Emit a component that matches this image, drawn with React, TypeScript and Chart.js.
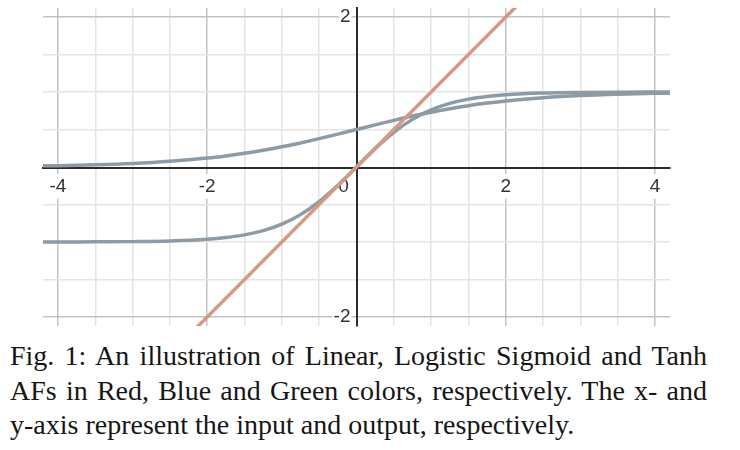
import React, { useEffect, useRef } from "react";
import { Chart, registerables } from "chart.js";

Chart.register(...registerables);

// ---- data ----
const curveX = [-4.2, -4, -3.5, -3, -2.5, -2, -1.75, -1.5, -1.25, -1, -0.75, -0.5, -0.25, 0, 0.25, 0.5, 0.75, 1, 1.25, 1.5, 1.75, 2, 2.5, 3, 3.5, 4, 4.2];
const sigmoidY = [0.015, 0.018, 0.029, 0.047, 0.076, 0.119, 0.148, 0.182, 0.223, 0.269, 0.321, 0.378, 0.438, 0.5, 0.562, 0.622, 0.679, 0.731, 0.777, 0.818, 0.852, 0.881, 0.924, 0.953, 0.971, 0.982, 0.985];
const tanhY = [-1, -0.999, -0.998, -0.995, -0.987, -0.964, -0.941, -0.905, -0.848, -0.762, -0.635, -0.462, -0.245, 0, 0.245, 0.462, 0.635, 0.762, 0.848, 0.905, 0.941, 0.964, 0.987, 0.995, 0.998, 0.999, 1];
const linearX = [-4.2, 4.2];
const linearY = [-4.2, 4.2];

const xTickLabels = [-4, -2, 2, 4];
const yTickLabels = [-2, 2];
const originLabel = "0";

const captionLines = [
  "Fig. 1: An illustration of Linear, Logistic Sigmoid and Tanh",
  "AFs in Red, Blue and Green colors, respectively. The x- and",
  "y-axis represent the input and output, respectively.",
];

const LINEAR_COLOR = "#d69a80";
const CURVE_COLOR = "#8d9ba6";
const MINOR_GRID = "#e4e4e4";
const MAJOR_GRID = "#bfc3c6";
const AXIS_COLOR = "#2b2b2b";
const TICK_FONT = { family: "'Liberation Sans', Arial, sans-serif", size: 19 };

const isMajor = (v: number) => Math.abs(v / 2 - Math.round(v / 2)) < 1e-6;

export default function App() {
  const canvasRef = useRef<HTMLCanvasElement | null>(null);

  useEffect(() => {
    const canvas = canvasRef.current;
    if (!canvas) return;
    const pts = (xs: number[], ys: number[]) => xs.map((x, i) => ({ x, y: ys[i] }));

    const gridColor = (ctx: any) => {
      const v = ctx.tick ? ctx.tick.value : 0;
      if (Math.abs(v) < 1e-9) return "rgba(0,0,0,0)";
      return isMajor(v) ? MAJOR_GRID : MINOR_GRID;
    };
    const noPad = (s: any) => {
      s.paddingTop = 0;
      s.paddingBottom = 0;
      s.paddingLeft = 0;
      s.paddingRight = 0;
    };

    const chart = new Chart(canvas, {
      type: "scatter",
      data: {
        datasets: [
          {
            data: pts(linearX, linearY),
            showLine: true,
            borderColor: LINEAR_COLOR,
            borderWidth: 3.5,
            pointRadius: 0,
          },
          {
            data: pts(curveX, sigmoidY),
            showLine: true,
            borderColor: CURVE_COLOR,
            borderWidth: 3.5,
            pointRadius: 0,
            cubicInterpolationMode: "monotone",
          },
          {
            data: pts(curveX, tanhY),
            showLine: true,
            borderColor: CURVE_COLOR,
            borderWidth: 3.5,
            pointRadius: 0,
            cubicInterpolationMode: "monotone",
          },
        ],
      },
      options: {
        animation: false,
        responsive: false,
        maintainAspectRatio: false,
        layout: { padding: { left: 43, right: 70, top: 8, bottom: 9 } },
        plugins: { legend: { display: false }, tooltip: { enabled: false } },
        scales: {
          x: {
            type: "linear",
            position: "center",
            min: -4.2,
            max: 4.2,
            afterFit: noPad,
            ticks: {
              stepSize: 0.5,
              includeBounds: false,
              autoSkip: false,
              maxRotation: 0,
              padding: 8,
              font: TICK_FONT,
              color: "#333",
              callback: (v: any) => (xTickLabels.includes(Number(v)) ? String(v) : ""),
              showLabelBackdrop: (ctx: any) => xTickLabels.includes(ctx.tick?.value),
              backdropColor: "#ffffff",
              backdropPadding: 1,
            },
            grid: { color: gridColor, lineWidth: 1.5, drawTicks: false },
            border: { color: AXIS_COLOR, width: 2 },
          },
          x0: {
            type: "linear",
            axis: "x",
            position: "center",
            min: -4.2,
            max: 4.2,
            afterFit: noPad,
            afterBuildTicks: (s: any) => {
              s.ticks = [{ value: 0 }];
            },
            ticks: {
              autoSkip: false,
              maxRotation: 0,
              padding: 8,
              labelOffset: -13,
              font: TICK_FONT,
              color: "#333",
              callback: () => originLabel,
              showLabelBackdrop: true,
              backdropColor: "#ffffff",
              backdropPadding: 1,
            },
            grid: { display: false, drawTicks: false },
            border: { display: false },
          },
          y: {
            type: "linear",
            position: "center",
            min: -2.12,
            max: 2.12,
            afterFit: noPad,
            ticks: {
              stepSize: 0.5,
              includeBounds: false,
              autoSkip: false,
              padding: 6,
              font: TICK_FONT,
              color: "#333",
              callback: (v: any) => (yTickLabels.includes(Number(v)) ? String(v) : ""),
              showLabelBackdrop: (ctx: any) => yTickLabels.includes(ctx.tick?.value),
              backdropColor: "#ffffff",
              backdropPadding: 1,
            },
            grid: { color: gridColor, lineWidth: 1.5, drawTicks: false },
            border: { color: AXIS_COLOR, width: 2 },
          },
        },
      },
    } as any);

    return () => chart.destroy();
  }, []);

  const lineStyle = (last: boolean): React.CSSProperties => ({
    textAlign: last ? "left" : "justify",
    textAlignLast: last ? "left" : "justify",
    whiteSpace: "nowrap",
    height: "34.5px",
  } as React.CSSProperties);

  return (
    <div
      style={{
        position: "fixed",
        left: 0,
        top: 0,
        width: 740,
        height: 450,
        background: "#ffffff",
        overflow: "hidden",
      }}
    >
      <canvas ref={canvasRef} width={740} height={335} style={{ display: "block", width: 740, height: 335 }} />
      <div
        style={{
          position: "absolute",
          left: 10,
          top: 339,
          width: 697,
          fontFamily: "'Liberation Serif', 'Times New Roman', serif",
          fontSize: 28,
          lineHeight: "34.5px",
          color: "#161616",
        }}
      >
        {captionLines.map((t, i) => (
          <div key={i} style={lineStyle(i === captionLines.length - 1)}>
            {t}
          </div>
        ))}
      </div>
    </div>
  );
}
